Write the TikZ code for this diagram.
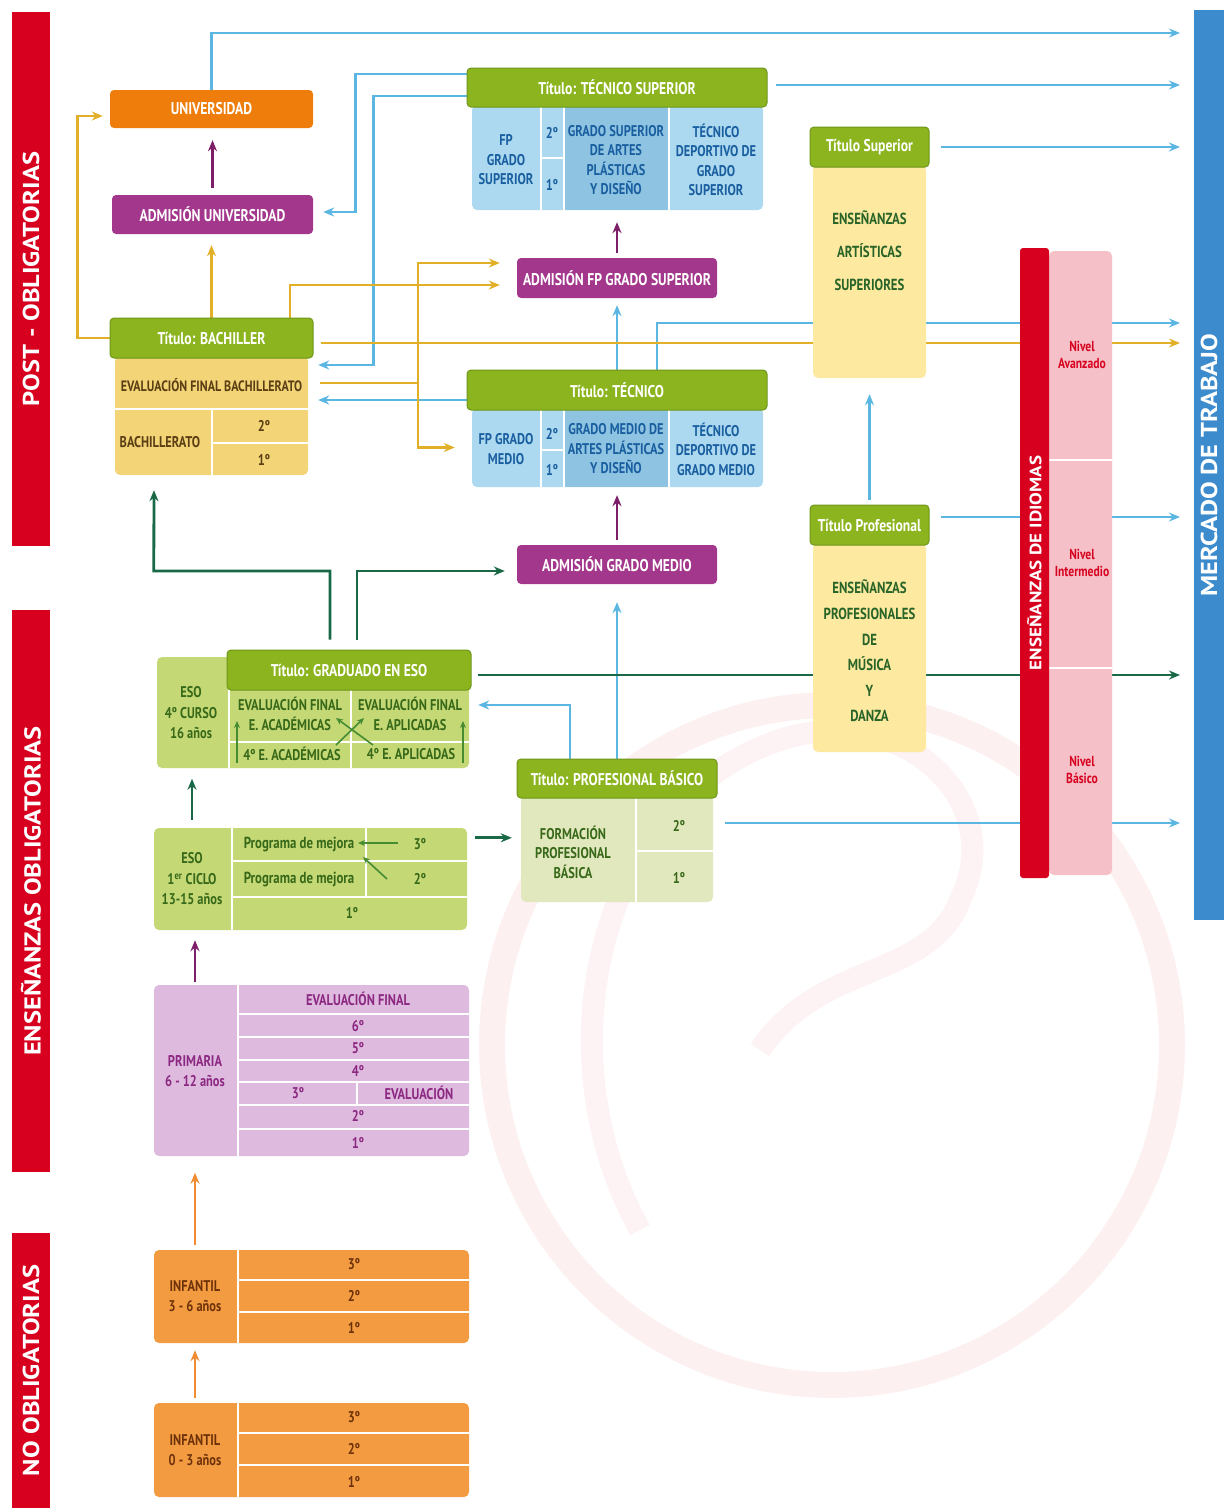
\documentclass[tikz,border=0pt]{standalone}
\usepackage{fontspec}
\setmainfont{PT Sans}[FakeStretch=0.8]
\newfontfamily\widefont{PT Sans}[FakeStretch=1.15]
\usetikzlibrary{arrows.meta,calc,backgrounds}

\definecolor{hdrgreen}{RGB}{140,180,30}
\definecolor{hdrgreenD}{RGB}{110,150,25}
\definecolor{uniorange}{RGB}{238,125,12}
\definecolor{admpurple}{RGB}{163,55,140}
\definecolor{fpblue}{RGB}{172,216,240}
\definecolor{fpblueD}{RGB}{142,195,226}
\definecolor{fptext}{RGB}{25,95,160}
\definecolor{bachyel}{RGB}{243,212,118}
\definecolor{bachtext}{RGB}{90,62,20}
\definecolor{artyel}{RGB}{253,233,160}
\definecolor{arttext}{RGB}{40,100,40}
\definecolor{esogreen}{RGB}{196,216,118}
\definecolor{esotext}{RGB}{55,105,25}
\definecolor{esoarr}{RGB}{70,140,50}
\definecolor{fpbgreen}{RGB}{226,232,190}
\definecolor{primpurple}{RGB}{222,186,222}
\definecolor{primtext}{RGB}{140,40,130}
\definecolor{infor}{RGB}{243,155,65}
\definecolor{inftext}{RGB}{110,50,10}
\definecolor{arrblue}{RGB}{92,182,226}
\definecolor{arryel}{RGB}{226,176,40}
\definecolor{arrgreen}{RGB}{25,105,70}
\definecolor{arrpurple}{RGB}{125,30,105}
\definecolor{arrorange}{RGB}{240,140,50}
\definecolor{idred}{RGB}{215,0,30}
\definecolor{idpink}{RGB}{245,192,200}
\definecolor{mktblue}{RGB}{60,140,205}

\begin{document}
\begin{tikzpicture}[x=1pt,y=-1pt,>={Stealth[length=11pt,width=9pt]}]
  \tikzstyle{sidebar}=[fill=idred,text=white,inner sep=0pt,rotate=90,font=\widefont\fontsize{23}{25}\selectfont\bfseries]
  \tikzstyle{hdr}=[rounded corners=4pt,fill=hdrgreen,draw=hdrgreenD,line width=1pt,text=white,inner sep=0pt,font=\fontsize{17}{19}\selectfont\bfseries]
  \tikzstyle{adm}=[rounded corners=4pt,fill=admpurple,text=white,inner sep=0pt,font=\fontsize{17}{19}\selectfont\bfseries]
  \tikzstyle{block}=[rounded corners=5pt,inner sep=0pt]
  \tikzstyle{cell}=[inner sep=0pt,align=center,font=\fontsize{15.5}{19.5}\selectfont\bfseries]
  \tikzstyle{nivel}=[inner sep=0pt,align=center,text=idred,font=\fontsize{14.5}{17}\selectfont\bfseries]
  \tikzstyle{seprule}=[white,line width=2pt]
  \tikzstyle{bluearr}=[->,draw=arrblue,line width=2.8pt,shorten >=10pt]
  \tikzstyle{yelarr}=[->,draw=arryel,line width=2.8pt,shorten >=10pt]
  \tikzstyle{grnarr}=[->,draw=arrgreen,line width=2.8pt,shorten >=10pt]
  \tikzstyle{purarr}=[->,draw=arrpurple,line width=2.8pt]
  \tikzstyle{orgarr}=[->,draw=arrorange,line width=2.8pt]
  \tikzstyle{smallarr}=[-{Stealth[length=7pt,width=6pt]},draw=esoarr,line width=1.6pt]

  \useasboundingbox (0,0) rectangle (1224,1508);

  % side bars
  \node[sidebar,minimum width=534pt,minimum height=38pt] (bar_post) at (31,279) {POST - OBLIGATORIAS};
  \node[sidebar,minimum width=562pt,minimum height=38pt] (bar_obl) at (31,891) {ENSEÑANZAS OBLIGATORIAS};
  \node[sidebar,minimum width=275pt,minimum height=38pt] (bar_noobl) at (31,1370.5) {NO OBLIGATORIAS};
  \node[sidebar,fill=mktblue,minimum width=910pt,minimum height=30pt] (mercado) at (1209,465) {MERCADO DE TRABAJO};

  \coordinate (M_uni) at (1190,33);
  \coordinate (M_tsup) at (1190,85);
  \coordinate (M_art) at (1190,147);
  \coordinate (M_tec) at (1190,323);
  \coordinate (M_bach) at (1190,343);
  \coordinate (M_mus) at (1190,517);
  \coordinate (M_eso) at (1190,675);
  \coordinate (M_fpb) at (1190,823);

  % idiomas
  \node[block,fill=idpink,minimum width=63pt,minimum height=624pt] (idi_niv) at (1080.5,563) {};
  \draw[seprule] (1049,460) -- (1112,460);
  \draw[seprule] (1049,668) -- (1112,668);
  \node[sidebar,rounded corners=3pt,minimum width=630pt,minimum height=29pt,font=\widefont\fontsize{16.5}{18}\selectfont\bfseries] (idiomas) at (1034.5,563) {ENSEÑANZAS DE IDIOMAS};
  \node[nivel] (niv_av) at (1082,355) {Nivel\\Avanzado};
  \node[nivel] (niv_in) at (1082,563) {Nivel\\Intermedio};
  \node[nivel] (niv_ba) at (1082,770) {Nivel\\Básico};

  % artisticas / musica
  \node[block,fill=artyel,minimum width=113pt,minimum height=213pt] (artbody) at (869.5,271.5) {};
  \node[cell,text=arttext,font=\fontsize{16}{33}\selectfont\bfseries] (art_txt) at (869.5,251) {ENSEÑANZAS\\ARTÍSTICAS\\SUPERIORES};
  \node[hdr,minimum width=119pt,minimum height=40pt] (t_art) at (869.5,147) {Título Superior};
  \node[block,fill=artyel,minimum width=113pt,minimum height=209pt] (musbody) at (869.5,647.5) {};
  \node[cell,text=arttext,font=\fontsize{16}{25.6}\selectfont\bfseries] (mus_txt) at (869.5,651) {ENSEÑANZAS\\PROFESIONALES\\DE\\MÚSICA\\Y\\DANZA};
  \node[hdr,minimum width=119pt,minimum height=40pt] (t_mus) at (869.5,525) {Título Profesional};

  % universidad
  \node[adm,fill=uniorange,minimum width=203pt,minimum height=38pt] (uni) at (211.5,109) {UNIVERSIDAD};
  \node[adm,minimum width=201pt,minimum height=39pt] (admuni) at (212.5,214.5) {ADMISIÓN UNIVERSIDAD};

  % bachillerato
  \node[block,fill=bachyel,minimum width=193pt,minimum height=119pt] (bachbody) at (211.5,415.5) {};
  \draw[seprule] (115,409) -- (308,409);
  \draw[seprule] (212,409) -- (212,475);
  \draw[seprule] (212,443) -- (308,443);
  \node[cell,text=bachtext,font=\fontsize{15}{17}\selectfont\bfseries] (bach_ev) at (211.5,385) {EVALUACIÓN FINAL BACHILLERATO};
  \node[cell,text=bachtext] (bach_lab) at (160,442) {BACHILLERATO};
  \node[cell,text=bachtext] (bach_2) at (264,426) {2º};
  \node[cell,text=bachtext] (bach_1) at (264,460) {1º};
  \node[hdr,minimum width=203pt,minimum height=40pt] (bachhdr) at (211.5,338) {Título: BACHILLER};

  % tecnico superior
  \node[block,fill=fpblue,minimum width=291pt,minimum height=105pt] (tsupbody) at (617.5,157.5) {};
  \fill[fpblueD] (565,107) rectangle (668,210);
  \draw[seprule] (541,107) -- (541,210);
  \draw[seprule] (564,107) -- (564,210);
  \draw[seprule] (669,107) -- (669,210);
  \draw[seprule] (541,158) -- (564,158);
  \node[cell,text=fptext] (tsup_fp) at (506,160) {FP\\GRADO\\SUPERIOR};
  \node[cell,text=fptext] (tsup_2) at (552,133) {2º};
  \node[cell,text=fptext] (tsup_1) at (552,185) {1º};
  \node[cell,text=fptext] (tsup_ap) at (616,160) {GRADO SUPERIOR\\DE ARTES\\PLÁSTICAS\\Y DISEÑO};
  \node[cell,text=fptext] (tsup_td) at (716,160) {TÉCNICO\\DEPORTIVO DE\\GRADO\\SUPERIOR};
  \node[hdr,minimum width=300pt,minimum height=39pt] (tsup) at (617,87.5) {Título: TÉCNICO SUPERIOR};

  \node[adm,minimum width=200pt,minimum height=40pt] (admfpgs) at (617,278) {ADMISIÓN FP GRADO SUPERIOR};

  % tecnico
  \node[block,fill=fpblue,minimum width=291pt,minimum height=79pt] (tecbody) at (617.5,447.5) {};
  \fill[fpblueD] (565,410) rectangle (668,487);
  \draw[seprule] (541,410) -- (541,487);
  \draw[seprule] (564,410) -- (564,487);
  \draw[seprule] (669,410) -- (669,487);
  \draw[seprule] (541,450) -- (564,450);
  \node[cell,text=fptext] (tec_fp) at (506,449) {FP GRADO\\MEDIO};
  \node[cell,text=fptext] (tec_2) at (552,434) {2º};
  \node[cell,text=fptext] (tec_1) at (552,470) {1º};
  \node[cell,text=fptext] (tec_ap) at (616,449) {GRADO MEDIO DE\\ARTES PLÁSTICAS\\Y DISEÑO};
  \node[cell,text=fptext] (tec_td) at (716,449) {TÉCNICO\\DEPORTIVO DE\\GRADO MEDIO};
  \node[hdr,minimum width=300pt,minimum height=40pt] (tec) at (617,390) {Título: TÉCNICO};

  \node[adm,minimum width=200pt,minimum height=39pt] (admgm) at (617,564.5) {ADMISIÓN GRADO MEDIO};

  % eso 4
  \node[block,fill=esogreen,minimum width=312pt,minimum height=111pt] (eso4) at (313,712.5) {};
  \draw[seprule] (229,688) -- (229,768);
  \draw[seprule] (351,690) -- (351,768);
  \draw[seprule] (229,742) -- (469,742);
  \node[cell,text=esotext,minimum width=70pt,minimum height=111pt,font=\fontsize{15.5}{20.5}\selectfont\bfseries] (eso4l) at (191,713) {ESO\\4º CURSO\\16 años};
  \node[cell,text=esotext,font=\fontsize{15.5}{20.5}\selectfont\bfseries] (eso4_evac) at (290,714) {EVALUACIÓN FINAL\\E. ACADÉMICAS};
  \node[cell,text=esotext,font=\fontsize{15.5}{20.5}\selectfont\bfseries] (eso4_evap) at (410,714) {EVALUACIÓN FINAL\\E. APLICADAS};
  \node[cell,text=esotext] (eso4_ac) at (292,754) {4º E. ACADÉMICAS};
  \node[cell,text=esotext] (eso4_ap) at (411,754) {4º E. APLICADAS};
  \node[hdr,minimum width=244pt,minimum height=40pt] (grad) at (349,670) {Título: GRADUADO EN ESO};
  \coordinate (s_l1) at (237,763);
  \coordinate (s_l2) at (237,721);
  \coordinate (s_r1) at (463,763);
  \coordinate (s_r2) at (463,721);
  \coordinate (s_x1) at (373,745);
  \coordinate (s_x2) at (336,718);
  \coordinate (s_x3) at (336,745);
  \coordinate (s_x4) at (364,718);
  \draw[smallarr] (s_l1) -- (s_l2);
  \draw[smallarr] (s_r1) -- (s_r2);
  \draw[smallarr] (s_x1) -- (s_x2);
  \draw[smallarr] (s_x3) -- (s_x4);

  % eso 1er ciclo
  \node[block,fill=esogreen,minimum width=313pt,minimum height=102pt] (eso1) at (310.5,879) {};
  \draw[seprule] (232,828) -- (232,930);
  \draw[seprule] (232,861) -- (467,861);
  \draw[seprule] (232,897) -- (467,897);
  \draw[seprule] (366,828) -- (366,897);
  \node[cell,text=esotext,minimum width=78pt,minimum height=102pt,font=\fontsize{15.5}{20.5}\selectfont\bfseries] (eso1l) at (192,879) {ESO\\1\textsuperscript{er} CICLO\\13-15 años};
  \node[cell,text=esotext,font=\fontsize{16}{18}\selectfont\bfseries] (eso1_pm3) at (299,844) {Programa de mejora};
  \node[cell,text=esotext,font=\fontsize{16}{18}\selectfont\bfseries] (eso1_pm2) at (299,879) {Programa de mejora};
  \node[cell,text=esotext] (eso1_3) at (420,844) {3º};
  \node[cell,text=esotext] (eso1_2) at (420,879) {2º};
  \node[cell,text=esotext] (eso1_1) at (352,913) {1º};
  \coordinate (s_m1) at (398,843);
  \coordinate (s_m2) at (358,843);
  \coordinate (s_m3) at (387,879);
  \coordinate (s_m4) at (363,857);
  \draw[smallarr] (s_m1) -- (s_m2);
  \draw[smallarr] (s_m3) -- (s_m4);

  % fp basica
  \node[block,fill=fpbgreen,minimum width=192pt,minimum height=106pt] (fpbbody) at (617,849) {};
  \draw[seprule] (636,798) -- (636,902);
  \draw[seprule] (636,851) -- (713,851);
  \node[cell,text=esotext] (fpb_lab) at (573,852) {FORMACIÓN\\PROFESIONAL\\BÁSICA};
  \node[cell,text=esotext] (fpb_2) at (679,826) {2º};
  \node[cell,text=esotext] (fpb_1) at (679,878) {1º};
  \node[hdr,minimum width=200pt,minimum height=39pt] (tpb) at (617,778.5) {Título: PROFESIONAL BÁSICO};

  % primaria
  \node[block,fill=primpurple,minimum width=315pt,minimum height=171pt] (prim) at (311.5,1070.5) {};
  \draw[seprule] (238,985) -- (238,1156);
  \draw[seprule] (238,1014) -- (469,1014);
  \draw[seprule] (238,1037) -- (469,1037);
  \draw[seprule] (238,1060) -- (469,1060);
  \draw[seprule] (238,1082) -- (469,1082);
  \draw[seprule] (238,1105) -- (469,1105);
  \draw[seprule] (238,1129) -- (469,1129);
  \draw[seprule] (357,1082) -- (357,1105);
  \node[cell,text=primtext,minimum width=84pt,minimum height=171pt,font=\fontsize{15.5}{20}\selectfont\bfseries] (priml) at (195,1071) {PRIMARIA\\6 - 12 años};
  \node[cell,text=primtext] (prim_ev) at (358,999) {EVALUACIÓN FINAL};
  \node[cell,text=primtext] (prim_6) at (358,1026) {6º};
  \node[cell,text=primtext] (prim_5) at (358,1048) {5º};
  \node[cell,text=primtext] (prim_4) at (358,1071) {4º};
  \node[cell,text=primtext] (prim_3) at (298,1093) {3º};
  \node[cell,text=primtext] (prim_ev3) at (419,1093) {EVALUACIÓN};
  \node[cell,text=primtext] (prim_2) at (358,1116) {2º};
  \node[cell,text=primtext] (prim_1) at (358,1143) {1º};

  % infantil
  \node[block,fill=infor,minimum width=315pt,minimum height=93pt] (inf36) at (311.5,1296.5) {};
  \draw[seprule] (238,1250) -- (238,1343);
  \draw[seprule] (238,1280) -- (469,1280);
  \draw[seprule] (238,1312) -- (469,1312);
  \node[cell,text=inftext,minimum width=84pt,minimum height=93pt,font=\fontsize{15.5}{20}\selectfont\bfseries] (inf36l) at (195,1296.5) {INFANTIL\\3 - 6 años};
  \node[cell,text=inftext] (inf36_3) at (354,1264) {3º};
  \node[cell,text=inftext] (inf36_2) at (354,1296) {2º};
  \node[cell,text=inftext] (inf36_1) at (354,1328) {1º};

  \node[block,fill=infor,minimum width=315pt,minimum height=94pt] (inf03) at (311.5,1450) {};
  \draw[seprule] (238,1403) -- (238,1497);
  \draw[seprule] (238,1433) -- (469,1433);
  \draw[seprule] (238,1465) -- (469,1465);
  \node[cell,text=inftext,minimum width=84pt,minimum height=94pt,font=\fontsize{15.5}{20}\selectfont\bfseries] (inf03l) at (195,1450) {INFANTIL\\0 - 3 años};
  \node[cell,text=inftext] (inf03_3) at (354,1417) {3º};
  \node[cell,text=inftext] (inf03_2) at (354,1449) {2º};
  \node[cell,text=inftext] (inf03_1) at (354,1482) {1º};

  \begin{pgfonlayer}{background}
  % watermark
  \draw[idred!6,line width=26pt] (832,1045) circle (340pt);
  \draw[idred!5,line width=22pt] (640,1230) .. controls (540,1050) and (600,800) .. (780,740) .. controls (900,700) and (1010,800) .. (960,900) .. controls (930,980) and (820,960) .. (760,1050);

  % blue
  \draw[bluearr] (uni.north) |- (M_uni);
  \draw[bluearr,shorten <=8pt] (tsup.east |- M_tsup) -- (M_tsup);
  \draw[bluearr,shorten <=11pt] (t_art.east |- M_art) -- (M_art);
  \draw[bluearr] ($(tec.north)+(40,0)$) |- (M_tec);
  \draw[bluearr,shorten <=11pt] (t_mus.east |- M_mus) -- (M_mus);
  \draw[bluearr,shorten <=12pt] (fpbbody.east |- M_fpb) -- (M_fpb);
  \draw[bluearr] ($(tsup.west)+(0,-13.5)$) -| ($(admuni.east)+(42,-2.5)$) -- ($(admuni.east)+(0,-2.5)$);
  \draw[bluearr] ($(tsup.west)+(0,8.5)$) -| ($(bachbody.east)+(65,-50.5)$) -- ($(bachbody.east)+(0,-50.5)$);
  \draw[bluearr] ($(tec.west)+(0,10)$) -- ($(bachbody.east)+(0,-15.5)$);
  \draw[bluearr,shorten >=7pt] (tec.north) -- (admfpgs.south);
  \draw[bluearr,shorten >=18pt] (tpb.north) -- (admgm.south);
  \draw[bluearr,shorten >=9pt] ($(tpb.north)+(-47,0)$) |- ($(eso4.east)+(0,-7.5)$);
  \draw[bluearr,shorten >=16pt,shorten <=5pt] (t_mus.north) -- (artbody.south);

  % yellow
  \draw[yelarr,shorten >=7pt] (bachhdr.west) -| ($(uni.west)+(-32,7)$) -- ($(uni.west)+(0,7)$);
  \draw[yelarr,shorten >=11pt] (bachhdr.north) -- (bachhdr.north |- admuni.south);
  \draw[yelarr,shorten >=17pt] ($(bachhdr.north)+(78.5,0)$) |- ($(admfpgs.west)+(0,7)$);
  \draw[yelarr,shorten <=7pt] ($(bachhdr.east)+(0,5)$) -- (M_bach);
  \coordinate (J_y) at (418,383);
  \draw[draw=arryel,line width=2.8pt,shorten <=12pt] (bachbody.east |- J_y) -- (J_y);
  \draw[yelarr,shorten >=17pt] (J_y) |- ($(admfpgs.west)+(0,-15)$);
  \draw[yelarr,shorten >=17pt] (J_y) |- (tecbody.west);

  % green
  \draw[grnarr,shorten >=15pt] ($(grad.north)+(-19,-10)$) |- ($(admgm.west)+(-363,6.5)$) -- ($(bachbody.south)+(-57.5,0)$);
  \draw[grnarr,shorten >=12pt] ($(grad.north)+(8,-10)$) |- ($(admgm.west)+(0,6.5)$);
  \draw[grnarr,shorten <=6pt] ($(grad.east)+(0,5)$) -- (M_eso);
  \draw[grnarr,shorten <=8pt,shorten >=9pt] ($(eso1.north east)+(0,10)$) -- ($(fpbbody.north west)+(0,42)$);
  \draw[grnarr,shorten <=8pt] (eso1l.north) -- (eso1l.north |- eso4l.south);

  % purple
  \draw[purarr,shorten >=12pt,shorten <=7pt] (admuni.north) -- (admuni.north |- uni.south);
  \draw[purarr,shorten >=12pt,shorten <=5pt] (admfpgs.north) -- (admfpgs.north |- tsupbody.south);
  \draw[purarr,shorten >=8pt,shorten <=5pt] (admgm.north) -- (admgm.north |- tecbody.south);
  \draw[purarr,shorten >=10pt,shorten <=3pt] (priml.north) -- (priml.north |- eso1l.south);

  % orange
  \draw[orgarr,shorten >=16pt,shorten <=5pt] (inf36l.north) -- (inf36l.north |- priml.south);
  \draw[orgarr,shorten >=7pt,shorten <=5pt] (inf03l.north) -- (inf03l.north |- inf36l.south);
  \end{pgfonlayer}
\end{tikzpicture}
\end{document}
